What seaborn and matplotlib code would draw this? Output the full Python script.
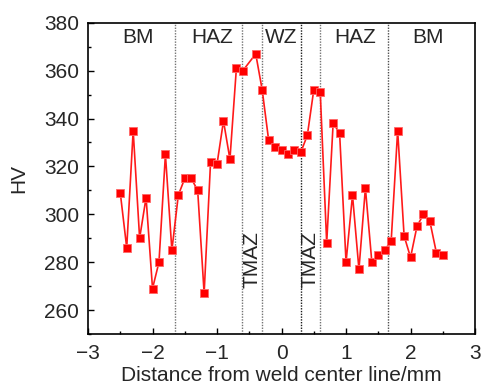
import matplotlib
matplotlib.use("Agg")
import matplotlib.pyplot as plt
import seaborn as sns
import pandas as pd
from matplotlib.ticker import MultipleLocator

distance = [-2.5, -2.4, -2.3, -2.2, -2.1, -2.0, -1.9, -1.8, -1.7, -1.6,
            -1.5, -1.4, -1.3, -1.2, -1.1, -1.0, -0.9, -0.8,
            -0.7, -0.6, -0.4, -0.3, -0.2, -0.1, 0.0, 0.1, 0.2, 0.3, 0.4, 0.5, 0.6,
            0.7, 0.8, 0.9, 1.0, 1.1, 1.2, 1.3, 1.4, 1.5, 1.6, 1.7,
            1.8, 1.9, 2.0, 2.1, 2.2, 2.3, 2.4, 2.5]
hardness = [309, 286, 335, 290, 307, 269, 280, 325, 285, 308,
            315, 315, 310, 267, 322, 321, 339, 323,
            361, 360, 367, 352, 331, 328, 327, 325, 327, 326, 333, 352, 351,
            288, 338, 334, 280, 308, 277, 311, 280, 283, 285, 289,
            335, 291, 282, 295, 300, 297, 284, 283]

boundaries = [-1.65, -0.61, -0.31, 0.30, 0.60, 1.65]
boundary_colors = ['0.45', '0.45', '0.45', '0.1', '0.45', '0.3']
zone_labels = ['BM', 'HAZ', 'WZ', 'HAZ', 'BM']
zone_x = [-2.22, -1.08, 0.0, 1.14, 2.27]
tmaz_x = [-0.46, 0.44]

sns.set_style("ticks")
plt.rcParams['font.family'] = ['Liberation Sans', 'DejaVu Sans']

fig = plt.figure(figsize=(4.82, 3.86), dpi=100)
ax = fig.add_axes([0.1826, 0.1347, 0.803, 0.8063])

df = pd.DataFrame({'d': distance, 'hv': hardness})
sns.lineplot(data=df, x='d', y='hv', ax=ax, color='#ff1a1a', linewidth=1.2,
             marker='s', markersize=5.5, markerfacecolor='#ff0000',
             markeredgecolor='#ff6666', markeredgewidth=0.6, sort=False)

for b, c in zip(boundaries, boundary_colors):
    ax.axvline(b, color=c, linestyle=(0, (1, 1)), linewidth=1.0, zorder=1)

for lab, x in zip(zone_labels, zone_x):
    ax.text(x, 374, lab, ha='center', va='center', fontsize=15)
for x in tmaz_x:
    ax.text(x, 281, 'TMAZ', ha='center', va='center', rotation=90, fontsize=15)

ax.set_xlim(-3, 3)
ax.set_ylim(250, 380)
ax.xaxis.set_major_locator(MultipleLocator(1))
ax.xaxis.set_minor_locator(MultipleLocator(0.5))
ax.yaxis.set_major_locator(MultipleLocator(20))
ax.yaxis.set_minor_locator(MultipleLocator(10))
ax.set_yticks([260, 280, 300, 320, 340, 360, 380])
ax.tick_params(which='both', direction='in', top=False, right=False, labelsize=15, color='black')
ax.tick_params(which='major', length=4, width=1)
ax.tick_params(which='minor', length=2.5, width=1)
ax.tick_params(axis='x', which='major', pad=7)
ax.tick_params(axis='y', which='major', pad=6.5)
for s in ax.spines.values():
    s.set_visible(True)
    s.set_color('black')
    s.set_linewidth(1.2)

ax.set_xlabel('Distance from weld center line/mm', fontsize=15, labelpad=2)
ax.set_ylabel('HV', fontsize=15, labelpad=11)

fig.savefig('out.png', dpi=100)
